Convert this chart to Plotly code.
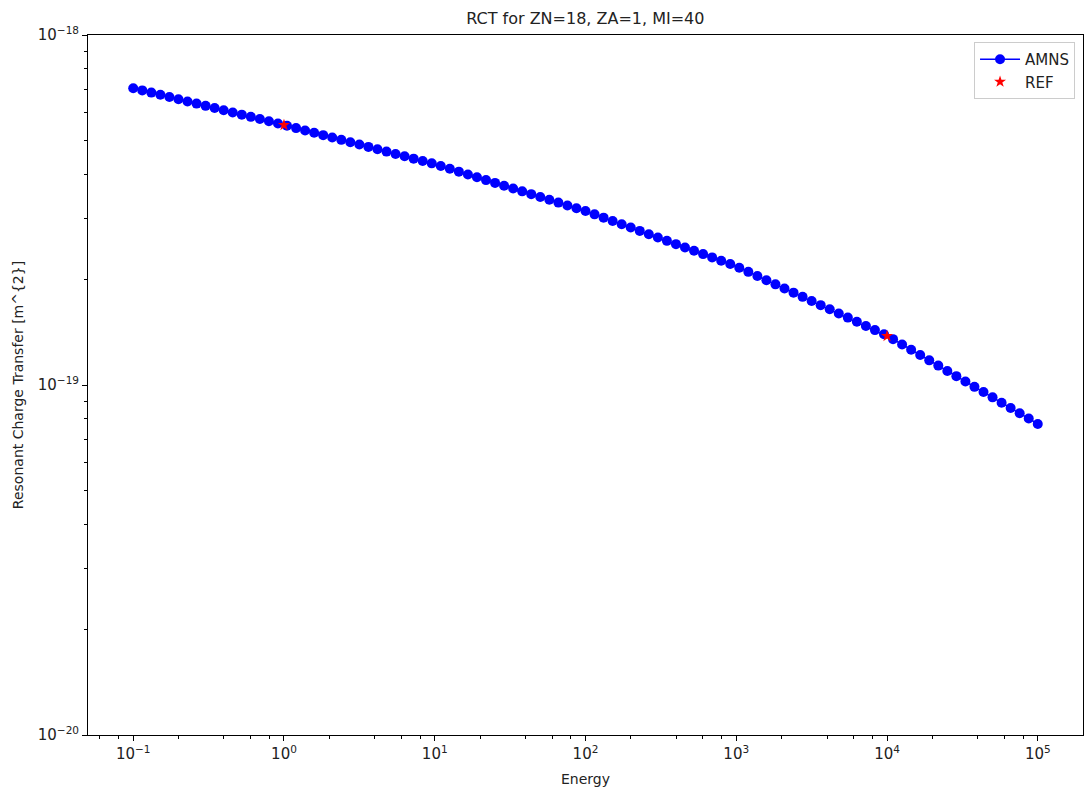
import plotly.graph_objects as go

# AMNS series (Energy, cross-section in m^2)
energy = [0.1, 0.11482, 0.13183, 0.15136, 0.17378, 0.19953, 0.22909, 0.26303, 0.30200, 0.34674,
          0.39811, 0.45709, 0.52481, 0.60256, 0.69183, 0.79433, 0.91201, 1.0471, 1.2023, 1.3804,
          1.5849, 1.8197, 2.0893, 2.3988, 2.7542, 3.1623, 3.6308, 4.1687, 4.7863, 5.4954,
          6.3096, 7.2444, 8.3176, 9.5499, 10.965, 12.589, 14.454, 16.596, 19.055, 21.878,
          25.119, 28.840, 33.113, 38.019, 43.652, 50.119, 57.544, 66.069, 75.858, 87.096,
          100.0, 114.82, 131.83, 151.36, 173.78, 199.53, 229.09, 263.03, 302.00, 346.74,
          398.11, 457.09, 524.81, 602.56, 691.83, 794.33, 912.01, 1047.1, 1202.3, 1380.4,
          1584.9, 1819.7, 2089.3, 2398.8, 2754.2, 3162.3, 3630.8, 4168.7, 4786.3, 5495.4,
          6309.6, 7244.4, 8317.6, 9549.9, 10965, 12589, 14454, 16596, 19055, 21878,
          25119, 28840, 33113, 38019, 43652, 50119, 57544, 66069, 75858, 87096,
          100000]

rct_e19 = [7.047, 6.946, 6.846, 6.747, 6.650, 6.554, 6.460, 6.367, 6.275, 6.185,
           6.096, 6.008, 5.922, 5.836, 5.752, 5.670, 5.588, 5.505, 5.420, 5.337,
           5.255, 5.175, 5.095, 5.017, 4.940, 4.864, 4.790, 4.716, 4.644, 4.572,
           4.502, 4.433, 4.365, 4.298, 4.224, 4.146, 4.070, 3.996, 3.922, 3.850,
           3.780, 3.710, 3.642, 3.575, 3.510, 3.445, 3.382, 3.320, 3.259, 3.199,
           3.141, 3.073, 3.007, 2.942, 2.879, 2.817, 2.756, 2.696, 2.638, 2.581,
           2.526, 2.471, 2.418, 2.366, 2.315, 2.265, 2.216, 2.163, 2.105, 2.048,
           1.993, 1.939, 1.887, 1.836, 1.786, 1.738, 1.691, 1.646, 1.601, 1.558,
           1.516, 1.475, 1.435, 1.397, 1.352, 1.306, 1.261, 1.218, 1.176, 1.136,
           1.097, 1.060, 1.023, 0.988, 0.955, 0.922, 0.890, 0.860, 0.830, 0.802,
           0.774]
rct = [v * 1e-19 for v in rct_e19]

# REF points
ref_energy = [1.0, 1.0e4]
ref_rct = [5.53e-19, 1.38e-19]

# Tick labels
x_tickvals = [1e-1, 1e0, 1e1, 1e2, 1e3, 1e4, 1e5]
x_ticktext = ["10<sup>−1</sup>", "10<sup>0</sup>", "10<sup>1</sup>", "10<sup>2</sup>",
              "10<sup>3</sup>", "10<sup>4</sup>", "10<sup>5</sup>"]
y_tickvals = [1e-20, 1e-19, 1e-18]
y_ticktext = ["10<sup>−20</sup>", "10<sup>−19</sup>", "10<sup>−18</sup>"]

x_minor = [m * 10.0 ** e for e in range(-2, 6) for m in (2, 4, 6, 8)]
y_minor = [m * 10.0 ** e for e in (-20, -19) for m in range(2, 10)]

font = "DejaVu Sans"

fig = go.Figure()
fig.add_trace(go.Scatter(
    x=energy, y=rct, mode="lines+markers", name="AMNS",
    line=dict(color="#0000ff", width=1.5),
    marker=dict(symbol="circle", size=10, color="#0000ff"),
))
fig.add_trace(go.Scatter(
    x=ref_energy, y=ref_rct, mode="markers", name="REF",
    marker=dict(symbol="star", size=9, color="#ff0000"),
))

axis_common = dict(
    type="log", showgrid=False, zeroline=False, showline=True, linecolor="black",
    linewidth=1, mirror=True, ticks="outside", ticklen=5, tickwidth=1, tickcolor="black",
    tickfont=dict(family=font, size=15, color="#222"),
)

fig.update_layout(
    width=1086, height=796,
    margin=dict(l=88, r=3, t=35, b=61),
    paper_bgcolor="white", plot_bgcolor="white",
    font=dict(family=font, color="#222"),
    title=dict(text="RCT for ZN=18, ZA=1, MI=40", x=0.539, xanchor="center",
               y=0.977, yanchor="middle", font=dict(family=font, size=16, color="#222")),
    xaxis=dict(**axis_common, range=[-1.3, 5.3], tickmode="array",
               tickvals=x_tickvals, ticktext=x_ticktext,
               minor=dict(tickmode="array", tickvals=x_minor, ticks="outside",
                          ticklen=3, tickcolor="black", showgrid=False),
               title=dict(text="Energy", font=dict(family=font, size=14, color="#222"),
                          standoff=12)),
    yaxis=dict(**axis_common, range=[-20, -18], tickmode="array",
               tickvals=y_tickvals, ticktext=y_ticktext,
               minor=dict(tickmode="array", tickvals=y_minor, ticks="outside",
                          ticklen=3, tickcolor="black", showgrid=False),
               title=dict(text="Resonant Charge Transfer [m^{2}]",
                          font=dict(family=font, size=14, color="#222"), standoff=10)),
    legend=dict(x=0.992, y=0.99, xanchor="right", yanchor="top",
                bgcolor="white", bordercolor="#cccccc", borderwidth=1,
                itemwidth=40,
                font=dict(family=font, size=15, color="#222")),
    showlegend=True,
)

fig.write_html(
    "out.html",
    config={"displayModeBar": False},
    post_script="document.body.style.margin='0';document.body.style.overflow='hidden';",
)
